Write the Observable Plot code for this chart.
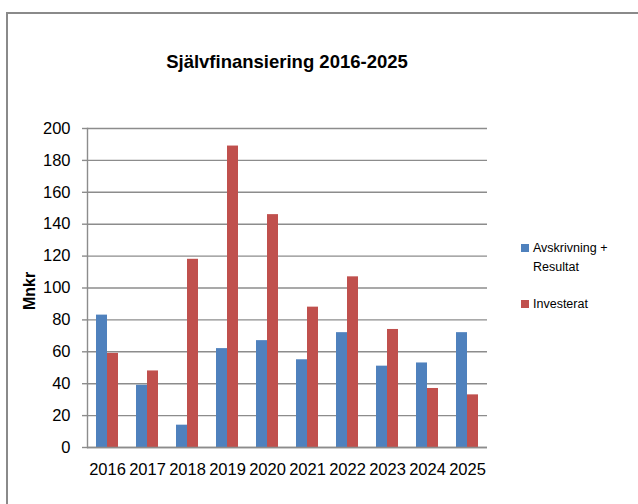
<!DOCTYPE html>
<html>
<head>
<meta charset="utf-8">
<script src="https://cdn.jsdelivr.net/npm/d3@7"></script>
<script src="https://cdn.jsdelivr.net/npm/@observablehq/plot@0.6"></script>
<style>
  html, body { margin: 0; padding: 0; background: #fff; }
  #wrap { position: relative; width: 638px; height: 504px; overflow: hidden; font-family: "Liberation Sans", Arial, sans-serif; }
  #frame { position: absolute; left: 6px; top: 12px; width: 700px; height: 600px; border-left: 2px solid #8a8a8a; border-top: 2px solid #8a8a8a; box-sizing: border-box; }
  #title { position: absolute; left: 0; width: 574px; top: 51px; text-align: center; font-weight: bold; font-size: 18.5px; color: #000; }
  #chart { position: absolute; left: 0; top: 0; }
  #ylabel { position: absolute; left: 30px; top: 291px; transform: translate(-50%, -50%) rotate(-90deg); font-weight: bold; font-size: 16px; color: #000; white-space: nowrap; }
  .leg { position: absolute; left: 521px; font-size: 12.5px; color: #000; line-height: 19px; }
  .sw { position: absolute; left: 0; top: 5px; width: 8px; height: 8px; }
  .lt { margin-left: 12px; }
</style>
</head>
<body>
<div id="wrap">
  <div id="frame"></div>
  <div id="chart"></div>
  <div id="title">Självfinansiering 2016-2025</div>
  <div id="ylabel">Mnkr</div>
  <div id="legend"></div>
</div>
<script>
const years = ["2016","2017","2018","2019","2020","2021","2022","2023","2024","2025"];
const avskrivningResultat = [83, 39, 14, 62, 67, 55, 72, 51, 53, 72];
const investerat = [59, 48, 118, 189, 146, 88, 107, 74, 37, 33];
const seriesNames = ["Avskrivning + Resultat", "Investerat"];
const seriesColors = ["#4F81BD", "#C0504D"];
const yTicks = [0, 20, 40, 60, 80, 100, 120, 140, 160, 180, 200];

const rowsA = years.map((y, i) => ({year: y, value: avskrivningResultat[i]}));
const rowsI = years.map((y, i) => ({year: y, value: investerat[i]}));

const plot = Plot.plot({
  width: 638,
  height: 504,
  marginLeft: 87,
  marginRight: 151,
  marginTop: 128,
  marginBottom: 57,
  style: {fontFamily: "'Liberation Sans', Arial, sans-serif", fontSize: "16px", color: "#000", background: "transparent"},
  x: {type: "band", domain: years, paddingInner: 0.45, paddingOuter: 0.225, label: null},
  y: {domain: [0, 200], label: null},
  marks: [
    Plot.ruleY(yTicks, {stroke: "#8c8c8c", strokeWidth: 1.4}),
    Plot.barY(rowsA, {x: "year", y: "value", fill: seriesColors[0], insetRight: 11, insetLeft: 0}),
    Plot.barY(rowsI, {x: "year", y: "value", fill: seriesColors[1], insetLeft: 11, insetRight: 0}),
    Plot.axisY({ticks: yTicks, tickSize: 5, tickPadding: 12, stroke: "#8c8c8c", strokeWidth: 1.4, label: null, fontSize: 16.5}),
    Plot.axisX({tickSize: 0, tickPadding: 16, label: null, fontSize: 16.5}),
    Plot.ruleY([0], {stroke: "#8c8c8c", strokeWidth: 1.6}),
    Plot.frame({anchor: "left", stroke: "#8c8c8c", strokeWidth: 1.4})
  ]
});
document.getElementById("chart").appendChild(plot);

const legend = document.getElementById("legend");
const legTops = [239, 295];
seriesNames.forEach((name, i) => {
  const d = document.createElement("div");
  d.className = "leg";
  d.style.top = legTops[i] + "px";
  const label = i === 0 ? "Avskrivning +<br>Resultat" : name;
  d.innerHTML = `<span class="sw" style="background:${seriesColors[i]}"></span><div class="lt">${label}</div>`;
  legend.appendChild(d);
});
</script>
</body>
</html>
